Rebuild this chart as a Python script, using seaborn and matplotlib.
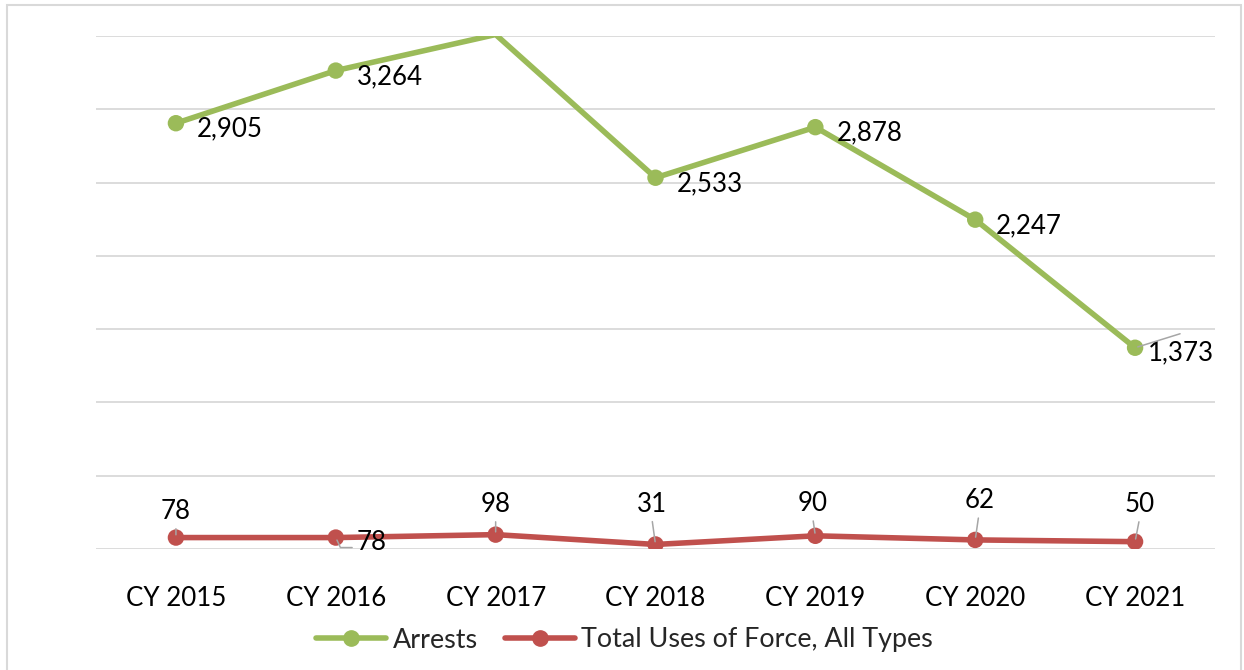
"""
Arrests vs total uses of force, CY 2015 - CY 2021 (line chart, Excel style).
"""

import pandas as pd
import matplotlib.pyplot as plt
import seaborn as sns
from matplotlib.lines import Line2D
from matplotlib.patches import Rectangle

# data
YEARS = ["CY 2015", "CY 2016", "CY 2017", "CY 2018", "CY 2019", "CY 2020", "CY 2021"]
ARRESTS = [2905, 3264, 3510, 2533, 2878, 2247, 1373]
USES_OF_FORCE = [78, 78, 98, 31, 90, 62, 50]
SERIES = ["Arrests", "Total Uses of Force, All Types"]
Y_MAX = 3500
Y_STEP = 500

GREEN = "#9BBB59"
RED = "#C0504D"
GRID = "#D9D9D9"
LEADER = "#A6A6A6"
FONT = ["Lato", "DejaVu Sans"]
FS = 18.6


def build_frame() -> pd.DataFrame:
    rows = []
    for name, values in zip(SERIES, [ARRESTS, USES_OF_FORCE]):
        for year, v in zip(YEARS, values):
            rows.append({"year": year, "value": v, "series": name})
    return pd.DataFrame(rows)


def label_points(ax, values, placement):
    """Write value labels (offsets in pixels) with optional leader lines."""
    for i, v in enumerate(values):
        if v > Y_MAX:
            continue  # Excel hides labels of points outside the axis
        dx, dy, ha, va, leader = placement(i)
        props = None
        if leader:
            props = dict(arrowstyle="-", color=LEADER, lw=1.1,
                         shrinkA=1, shrinkB=2, **leader)
        ax.annotate(f"{v:,}", xy=(i, v), xytext=(dx, dy),
                    textcoords="offset pixels", ha=ha, va=va,
                    fontsize=FS, family=FONT, color="black",
                    arrowprops=props, annotation_clip=False)


def main() -> None:
    df = build_frame()
    sns.set_theme(style="white")
    plt.rcParams["font.family"] = FONT

    fig = plt.figure(figsize=(12.44, 6.70), dpi=100)
    W, H = 1244, 670
    ax = fig.add_axes([96 / W, 1 - 549 / H, (1215 - 96) / W, (549 - 36) / H])

    palette = {SERIES[0]: GREEN, SERIES[1]: RED}
    sns.lineplot(data=df, x="year", y="value", hue="series", palette=palette,
                 linewidth=4, legend=False, ax=ax, sort=False)
    visible = df[df["value"] <= Y_MAX]
    sns.scatterplot(data=visible, x="year", y="value", hue="series",
                    palette=palette, s=140, linewidth=0, legend=False,
                    ax=ax, zorder=3)

    ax.set_xlim(-0.5, len(YEARS) - 0.5)
    ax.set_ylim(0, Y_MAX)
    ax.set_yticks(range(0, Y_MAX + 1, Y_STEP))
    ax.set_yticklabels([])
    ax.grid(axis="y", color=GRID, linewidth=1.3)
    ax.grid(axis="x", visible=False)
    for s in ax.spines.values():
        s.set_visible(False)
    ax.tick_params(axis="both", length=0)
    ax.tick_params(axis="x", pad=27, labelsize=FS, labelcolor="black")
    ax.set_xlabel("")
    ax.set_ylabel("")
    for lab in ax.get_xticklabels():
        lab.set_family(FONT)

    # arrests labels: right of the point
    def arrest_pos(i):
        if i == len(YEARS) - 1:
            return (13, -5, "left", "center", None)
        return (21, -6, "left", "center", None)

    label_points(ax, ARRESTS, arrest_pos)
    # short leader for the last arrests label
    ax.annotate("", xy=(len(YEARS) - 1, ARRESTS[-1]), xytext=(45, 14),
                textcoords="offset pixels",
                arrowprops=dict(arrowstyle="-", color=LEADER, lw=1.1,
                                shrinkA=0, shrinkB=2))

    # uses of force labels: above, except CY 2016 (below right)
    red_dx = [0, 36, 0, -4, -3, 4, 5]
    red_dy = [26, -5, 30, 40, 32, 39, 37]

    def force_pos(i):
        if i == 1:
            return (red_dx[i], red_dy[i], "center", "center",
                    dict(connectionstyle="angle,angleA=0,angleB=-65,rad=0",
                         relpos=(0, 0.3)))
        return (red_dx[i], red_dy[i], "center", "center",
                dict(relpos=(0.5, 0.05)))

    label_points(ax, USES_OF_FORCE, force_pos)

    handles = [Line2D([], [], color=c, lw=4, marker="o", markersize=11)
               for c in (GREEN, RED)]
    fig.legend(handles, SERIES, loc="center", bbox_to_anchor=(0.502, 1 - 640 / H),
               ncol=2, frameon=False, handlelength=2.6,
               handletextpad=0.25, columnspacing=1.0,
               prop={"family": FONT, "size": 19.4})

    # chart frame
    fig.patches.append(Rectangle((7 / W, -0.05), (1241 - 7) / W, 1.05 - 5 / H,
                                 transform=fig.transFigure, fill=False,
                                 edgecolor=GRID, linewidth=1.5))

    fig.savefig("out.png", dpi=100)
    plt.close(fig)


if __name__ == "__main__":
    main()
